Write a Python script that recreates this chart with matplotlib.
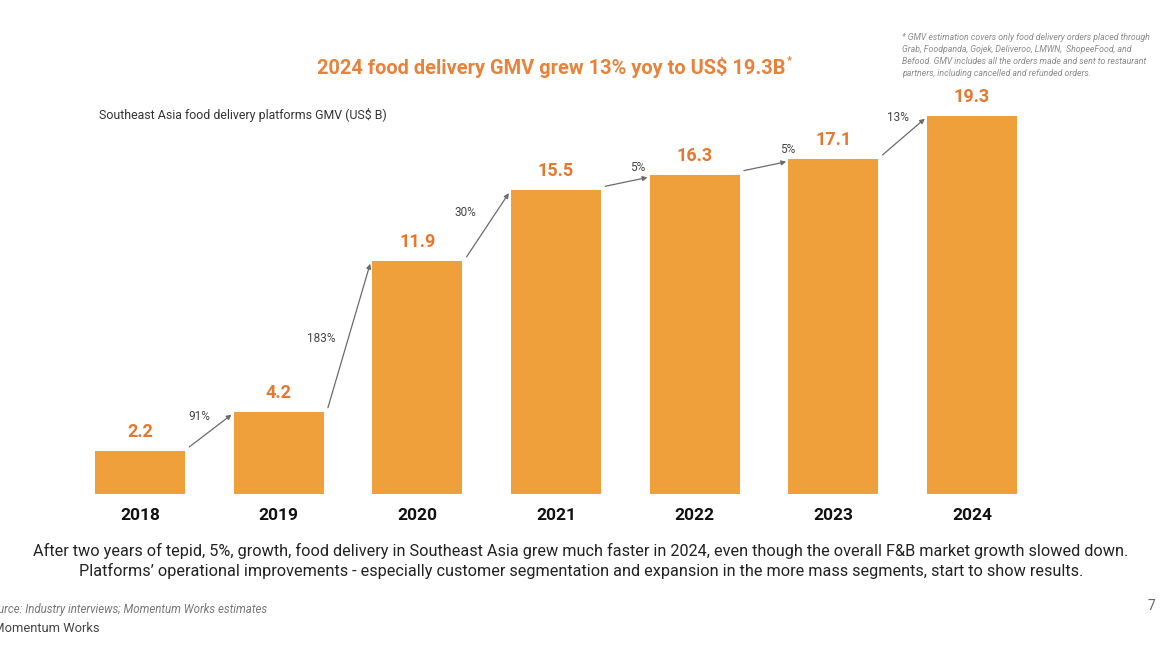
import matplotlib
matplotlib.use("Agg")
import matplotlib.pyplot as plt

years = ["2018", "2019", "2020", "2021", "2022", "2023", "2024"]
gmv = [2.2, 4.2, 11.9, 15.5, 16.3, 17.1, 19.3]
value_labels = ["2.2", "4.2", "11.9", "15.5", "16.3", "17.1", "19.3"]
growth_labels = ["91%", "183%", "30%", "5%", "5%", "13%"]

title = "2024 food delivery GMV grew 13% yoy to US$ 19.3B"
subtitle = "Southeast Asia food delivery platforms GMV (US$ B)"
footnote = ("* GMV estimation covers only food delivery orders placed through\n"
            "Grab, Foodpanda, Gojek, Deliveroo, LMWN,  ShopeeFood, and\n"
            "Befood. GMV includes all the orders made and sent to restaurant\n"
            "partners, including cancelled and refunded orders.")
caption = ("After two years of tepid, 5%, growth, food delivery in Southeast Asia grew much faster in 2024, even though the overall F&B market growth slowed down.\n"
           "Platforms\u2019 operational improvements - especially customer segmentation and expansion in the more mass segments, start to show results.")
source = "Source: Industry interviews; Momentum Works estimates"
brand = "\u00a9 Momentum Works"
page = "7"

BAR = "#F0A03A"
LABEL = "#E8772E"
TITLE_C = "#E8823A"

plt.rcParams['font.family'] = ['Roboto', 'DejaVu Sans']

W, H = 1176, 648
fig = plt.figure(figsize=(W / 100, H / 100), dpi=100)
fig.patch.set_facecolor("white")

def fx(x):
    return x / W

def fy(y):
    return 1 - y / H

ax_left, ax_right, ax_bottom, ax_top = 70.7, 1041.3, 494, 100
ax = fig.add_axes([fx(ax_left), fy(ax_bottom), (ax_right - ax_left) / W, (ax_bottom - ax_top) / H])
px_per_unit = 19.6
ax.set_xlim(-0.5, len(years) - 0.5)
ax.set_ylim(0, (ax_bottom - ax_top) / px_per_unit)
ax.axis("off")

bw = 0.65
xs = list(range(len(years)))
ax.bar(xs, gmv, width=bw, color=BAR, edgecolor="none", zorder=2)

for x, v, lab in zip(xs, gmv, value_labels):
    ax.annotate(lab, (x, v), xytext=(0, 7), textcoords="offset points",
                ha="center", va="bottom", fontsize=13, fontweight="bold", color=LABEL)

for x, y in zip(xs, years):
    ax.annotate(y, (x, 0), xytext=(0, -10), textcoords="offset points",
                ha="center", va="top", fontsize=12.5, fontweight="bold", color="#111111",
                annotation_clip=False)

lab_offsets = [(-8, 10), (-20, -2), (-16, 9), (8, 10), (16, 12), (-4, 14)]
for i, g in enumerate(growth_labels):
    x0 = xs[i] + bw / 2 + 0.03
    y0 = gmv[i] + 0.2
    x1 = xs[i + 1] - bw / 2 - 0.015
    y1 = gmv[i + 1] - 0.15
    ax.annotate("", xy=(x1, y1), xytext=(x0, y0),
                arrowprops=dict(arrowstyle="-|>", color="#6b6b6b", lw=0.9,
                                mutation_scale=7, shrinkA=0, shrinkB=0), zorder=3)
    mx, my = (x0 + x1) / 2, (y0 + y1) / 2
    ax.annotate(g, (mx, my), xytext=lab_offsets[i], textcoords="offset points",
                ha="center", va="center", fontsize=8.5, color="#444444")

fig.text(fx(551), fy(67), title, ha="center", va="center", fontsize=14.4,
         fontweight="bold", color=TITLE_C)
fig.text(fx(789), fy(60), "*", ha="center", va="center", fontsize=8,
         fontweight="bold", color=TITLE_C)
fig.text(fx(99), fy(115), subtitle, ha="left", va="center", fontsize=8.9, color="#333333")
fig.text(fx(902), fy(33), footnote, ha="left", va="top", fontsize=6.3,
         style="italic", color="#8a8a8a", linespacing=1.45)
fig.text(fx(581), fy(561), caption, ha="center", va="center", fontsize=11.7,
         color="#222222", linespacing=1.3, multialignment="center")
fig.text(fx(267), fy(609), source, ha="right", va="center", fontsize=8.3,
         style="italic", color="#777777")
fig.text(fx(100), fy(628), brand, ha="right", va="center", fontsize=9.3, color="#444444")
fig.text(fx(1151), fy(606), page, ha="center", va="center", fontsize=10, color="#666666")

fig.savefig("out.png", dpi=100, facecolor="white")
